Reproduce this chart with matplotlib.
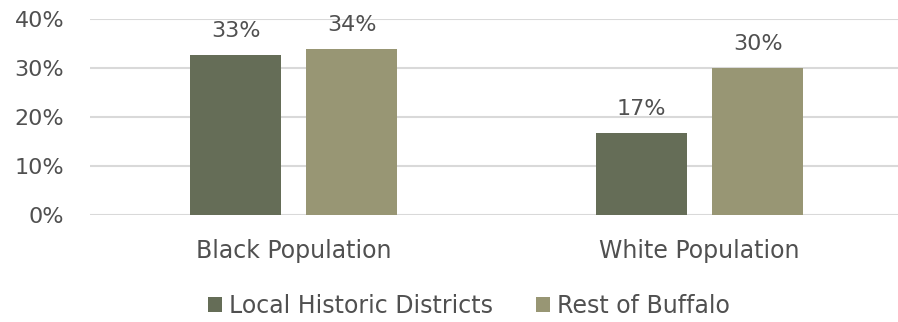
import numpy as np
import matplotlib.pyplot as plt

# Data
groups = ['Black Population', 'White Population']
series = ['Local Historic Districts', 'Rest of Buffalo']
local_pct = [32.6, 16.8]
rest_pct = [33.9, 30.1]
colors = ['#656d57', '#989674']

plt.rcParams['font.family'] = ['DejaVu Sans']
text_col = '#505050'

fig = plt.figure(figsize=(8.98, 3.22), dpi=100)
ax = fig.add_axes([0.1002, 0.332, 0.8998, 0.609])

x = np.arange(len(groups))
w = 0.224
off = 0.143
b1 = ax.bar(x - off, local_pct, w, color=colors[0], label=series[0], zorder=3)
b2 = ax.bar(x + off, rest_pct, w, color=colors[1], label=series[1], zorder=3)

for bars in (b1, b2):
    for r in bars:
        v = r.get_height()
        ax.annotate(f'{v:.0f}%', (r.get_x() + r.get_width() / 2, v),
                    xytext=(0, 10), textcoords='offset points',
                    ha='center', va='bottom', fontsize=16, color=text_col)

ax.set_ylim(0, 40)
ax.set_yticks([0, 10, 20, 30, 40])
ax.set_yticklabels([f'{t}%' for t in [0, 10, 20, 30, 40]])
ax.set_xlim(-0.502, 1.489)
ax.set_xticks(x)
ax.set_xticklabels(groups)
ax.tick_params(axis='both', length=0, colors=text_col)
ax.tick_params(axis='y', pad=18.5, labelsize=16)
ax.tick_params(axis='x', pad=17, labelsize=17)
ax.yaxis.grid(True, color='#d9d9d9', linewidth=1.5, zorder=0)
for s in ax.spines.values():
    s.set_visible(False)

fig.legend(loc='center', bbox_to_anchor=(0.522, 0.05), ncol=2, frameon=False,
           fontsize=17, labelcolor=text_col, handlelength=0.6, handleheight=0.6,
           handletextpad=0.3, columnspacing=1.8)

fig.savefig('out.png', dpi=100)
